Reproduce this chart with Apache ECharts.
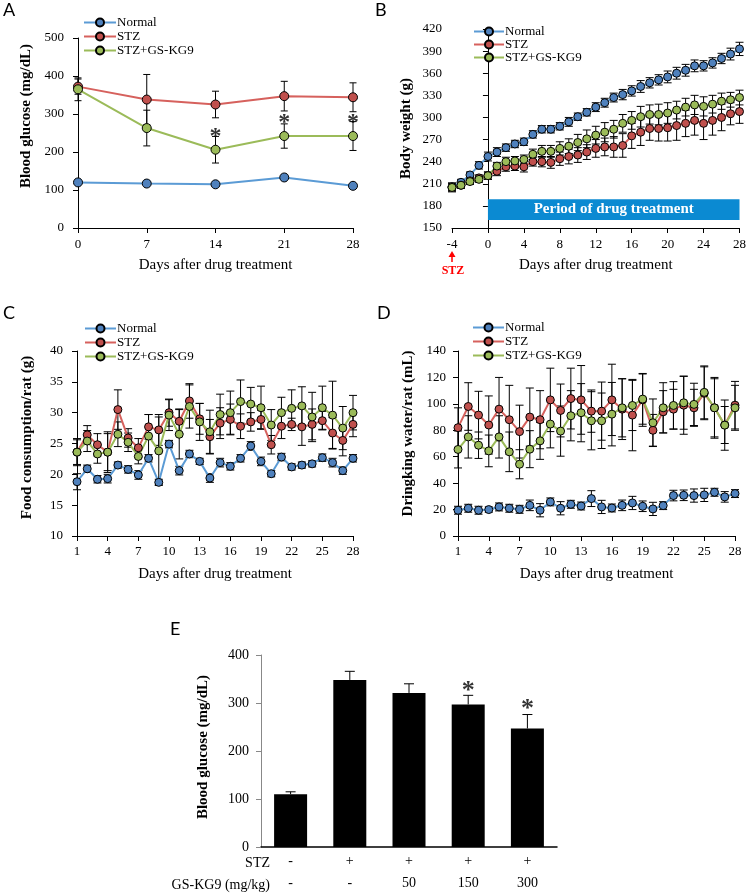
<!DOCTYPE html>
<html><head><meta charset="utf-8">
<script src="https://cdn.jsdelivr.net/npm/echarts@6/dist/echarts.min.js"></script>
<style>html,body{margin:0;padding:0;background:#fff}#c{width:749px;height:894px}</style>
</head><body><div id="c"></div><script>
// ---------- data ----------
const groupNames = ['Normal', 'STZ', 'STZ+GS-KG9'];

// Panel A: blood glucose over time
const daysA = [0, 7, 14, 21, 28];
const glucoseNormalA = [120, 117, 115, 133, 111];
const glucoseNormalErrA = [3, 3, 3, 4, 3];
const glucoseStzA = [372, 338, 325, 347, 344];
const glucoseStzErrA = [20, 66, 35, 39, 38];
const glucoseKg9A = [365, 263, 206, 242, 242];
const glucoseKg9ErrA = [30, 47, 35, 32, 38];
const starDaysA = [14, 21, 28];
const starLevelsA = [241, 277, 277];

// Panel B: body weight, day -4 .. 28
const daysB = [-4,-3,-2,-1,0,1,2,3,4,5,6,7,8,9,10,11,12,13,14,15,16,17,18,19,20,21,22,23,24,25,26,27,28];
const weightNormalB = [206,212,222,235,247,253,259,264,267,277,284,284,288,294,301,307,314,320,327,331,336,342,347,351,355,360,364,370,370,374,380,386,393];
const weightNormalErrB = [5,4,4,5,6,6,5,5,5,5,5,5,5,6,5,5,6,6,6,7,7,8,7,7,8,8,8,8,7,7,7,8,9];
const weightStzB = [205,208,214,218,221,227,233,234,233,240,240,239,244,247,249,253,258,260,260,262,275,280,285,285,286,289,292,296,292,296,300,305,308];
const weightStzErrB = [6,4,4,4,5,6,6,6,7,6,7,8,9,10,10,10,12,12,14,16,17,18,16,17,18,20,18,20,22,20,18,15,16];
const weightKg9B = [205,208,213,216,221,234,240,241,243,250,254,254,258,261,266,271,276,280,284,292,296,301,304,304,306,310,314,317,315,318,322,324,327];
const weightKg9ErrB = [5,4,4,4,5,5,6,6,6,7,8,8,9,10,11,12,12,13,12,12,12,14,13,14,14,12,12,13,13,12,11,10,10];
const treatmentLabel = 'Period of drug treatment';
const treatmentBox = [0, 161, 28, 189];

// Panels C & D: days 1..28
const daysCD = ['1','2','3','4','5','6','7','8','9','10','11','12','13','14','15','16','17','18','19','20','21','22','23','24','25','26','27','28'];
const foodNormalC = [18.8,20.9,19.2,19.3,21.5,20.8,19.9,22.6,18.7,24.9,20.6,23.3,22.1,19.4,21.9,21.3,22.6,24.6,22.1,20.1,22.8,21.2,21.5,21.7,22.7,21.9,20.6,22.6];
const foodNormalErrC = [1.3,0.6,0.6,0.7,0.5,0.6,0.7,0.6,0.5,0.6,0.7,0.6,0.5,0.7,0.7,0.6,0.6,0.7,0.7,0.5,0.6,0.5,0.5,0.5,0.6,0.7,0.6,0.6];
const foodStzC = [23.6,26.4,24.8,23.6,30.5,25.9,24.3,27.7,27.2,30.0,28.6,31.9,29.0,26.1,28.3,28.9,27.8,28.5,28.9,24.8,27.8,28.1,27.7,28.1,28.7,26.7,25.5,28.1];
const foodStzErrC = [2.0,1.5,1.8,3.3,3.2,1.5,1.5,2.0,2.5,2.2,2.0,2.8,2.5,2.8,2.5,2.5,2.0,1.5,1.5,1.5,2.0,1.0,3.0,2.5,1.5,2.5,2.5,2.0];
const foodKg9C = [23.6,25.4,23.3,23.6,26.5,25.2,22.9,26.2,23.8,29.6,26.5,31.0,28.5,26.9,29.7,30.0,31.8,31.4,30.8,28.0,30.0,30.7,31.1,29.3,30.8,29.6,27.5,30.0];
const foodKg9ErrC = [2.2,1.7,1.5,3.0,2.0,1.5,1.2,3.5,5.5,2.5,4.0,3.5,3.0,3.5,3.3,3.5,3.5,2.7,3.5,2.5,2.5,3.0,3.1,4.0,3.5,5.5,3.5,2.8];

const waterNormalD = [19.5,21,19.5,20,22,21,20.2,23.2,19.5,25.8,21,24,22.7,28.3,22,21.2,23.2,25,22.5,20.5,23,30.6,30.8,30.6,31.1,33.1,29.6,32.1];
const waterNormalErrD = [3,3,3,2,3,3,3,4,5,3,5,3,3,6,5,3,4,5,4,5,3,4,4,5,5,3,4,3];
const waterStzD = [82,98,91.5,84,96,88,79,90,88,103,95,104,103,94.5,94.5,103,96,91.5,103,80,94,96,99,97,108,97,84,99];
const waterStzErrD = [15,18,18,22,24,26,20,22,22,24,20,23,26,16,22,27,23,27,20,12,16,15,22,14,20,22,14,18];
const waterKg9D = [65.5,75,68.7,64.4,75,63.7,54.3,65.7,72,84.7,79.4,91,93.3,87.2,87.2,92.2,97,98.8,103.6,85.7,97,98.8,100.8,99.6,108.7,97,83.9,97];
const waterKg9ErrD = [14,16,10,12,16,15,11,14,14,18,19,19,22,22,21,24,22,19,19,18,19,18,20,16,20,23,19,17];

// Panel E: dose response
const stzRowE = ['-', '+', '+', '+', '+'];
const doseRowE = ['-', '-', '50', '150', '300'];
const glucoseE = [110, 348, 321, 297, 247];
const glucoseErrE = [5, 18, 19, 19, 29];
const starIndexE = [3, 4];
const starLevelsE = [325, 286];

// ---------- styles ----------
const SERIF = '"Liberation Serif","Times New Roman",serif';
const SANS = 'Lato,"Open Sans",sans-serif';
const LINE = {'Normal':'#5B9BD5','STZ':'#D6615D','STZ+GS-KG9':'#9BBB59'};
const FILL = {'Normal':'#4F81BD','STZ':'#C0504D','STZ+GS-KG9':'#9BBB59'};

const chart = echarts.init(document.getElementById('c'));

function errRender(cap, upOnly) {
  return function (params, api) {
    const x = api.value(0), y = api.value(1), e = api.value(2);
    const hi = api.coord([x, y + e]);
    const lo = api.coord(upOnly ? [x, y] : [x, y - e]);
    const st = {stroke:'#000', lineWidth:1};
    const ch = [
      {type:'line', shape:{x1:hi[0], y1:hi[1], x2:lo[0], y2:lo[1]}, style:st},
      {type:'line', shape:{x1:hi[0]-cap, y1:hi[1], x2:hi[0]+cap, y2:hi[1]}, style:st}
    ];
    if (!upOnly) ch.push({type:'line', shape:{x1:lo[0]-cap, y1:lo[1], x2:lo[0]+cap, y2:lo[1]}, style:st});
    return {type:'group', children:ch};
  };
}
function lineS(name, ax, data, size) {
  return {type:'line', name, xAxisIndex:ax, yAxisIndex:ax, data, symbol:'circle', symbolSize:size,
    showSymbol:true, showAllSymbol:true, z:3, animation:false, silent:true,
    lineStyle:{color:LINE[name], width:2}, itemStyle:{color:FILL[name], borderColor:'#000', borderWidth:1}};
}
function errS(ax, xs, vals, errs, cap, upOnly) {
  return {type:'custom', xAxisIndex:ax, yAxisIndex:ax, z:2, animation:false, silent:true,
    renderItem: errRender(cap, upOnly),
    data: vals.map((v, i) => [xs[i], v, errs[i]])};
}
function starS(ax, xs, ys, fs) {
  return {type:'scatter', xAxisIndex:ax, yAxisIndex:ax, symbolSize:1, z:5, animation:false, silent:true,
    itemStyle:{color:'rgba(0,0,0,0)'},
    label:{show:true, position:'inside', formatter:'*', fontSize:fs, fontWeight:'bold', color:'#000', fontFamily:SERIF},
    data: xs.map((x, i) => [x, ys[i]])};
}
const pair = (xs, ys) => ys.map((v, i) => [xs[i], v]);
const idx = daysCD.map((d, i) => i);

function yAx(gi, min, max, interval, name, gap, margin, shiftUp, lineColor) {
  return {type:'value', gridIndex:gi, min, max, interval, name, nameLocation:'middle', nameGap:gap,
    nameTextStyle:{fontFamily:SERIF, fontSize:15, fontWeight:'bold', color:'#000', padding:[0,0,0,2*shiftUp]},
    axisLine:{show:true, lineStyle:{color:lineColor || '#000', width:1}},
    axisTick:{show:true, inside:false, length:5, lineStyle:{color:lineColor || '#000'}},
    axisLabel:{fontFamily:SERIF, fontSize:13, color:'#000', margin},
    splitLine:{show:false}};
}
function xValAx(gi, min, max, interval, gap) {
  return {type:'value', gridIndex:gi, min, max, interval, name:'Days after drug treatment', nameLocation:'middle', nameGap:gap,
    nameTextStyle:{fontFamily:SERIF, fontSize:15, color:'#000'},
    axisLine:{show:true, onZero:false, lineStyle:{color:'#000', width:1}},
    axisTick:{show:true, length:5, lineStyle:{color:'#000'}},
    axisLabel:{fontFamily:SERIF, fontSize:13, color:'#000', margin:10},
    splitLine:{show:false}};
}
function xCatAx(gi, gap) {
  return {type:'category', gridIndex:gi, data:daysCD, boundaryGap:false, name:'Days after drug treatment', nameLocation:'middle', nameGap:gap,
    nameTextStyle:{fontFamily:SERIF, fontSize:15, color:'#000'},
    axisLine:{show:true, onZero:false, lineStyle:{color:'#000', width:1}},
    axisTick:{show:true, interval:2, length:5, lineStyle:{color:'#000'}},
    axisLabel:{interval:2, fontFamily:SERIF, fontSize:13, color:'#000', margin:9},
    splitLine:{show:false}};
}
function legendAt(left, top, w, lh, gap) {
  return {left, top, orient:'vertical', padding:0, itemWidth:w, itemHeight:10, itemGap:gap, selectedMode:false,
    data:groupNames, textStyle:{fontFamily:SERIF, fontSize:13, color:'#000', lineHeight:lh, padding:[0,0,0,-4]}};
}

const option = {
  animation:false,
  backgroundColor:'#fff',
  grid:[
    {left:78, top:38, width:275, height:190},
    {left:452, top:29, width:289, height:199},
    {left:77, top:351, width:276, height:185},
    {left:458, top:351, width:277, height:185},
    {left:261, top:655, width:296, height:194}
  ],
  xAxis:[
    xValAx(0, 0, 28, 7, 30),
    xValAx(1, -4, 28, 4, 30),
    xCatAx(2, 31),
    xCatAx(3, 31),
    {type:'category', gridIndex:4, data:stzRowE.map((s, i) => s + '\n' + doseRowE[i]),
      axisLine:{show:true, lineStyle:{color:'#000', width:1.5}}, axisTick:{show:false},
      axisLabel:{fontFamily:SERIF, fontSize:14, color:'#000', lineHeight:22, margin:3}}
  ],
  yAxis:[
    yAx(0, 0, 500, 100, 'Blood glucose (mg/dL)', 44, 14, 17),
    yAx(1, 150, 420, 30, 'Body weight (g)', 38, 10, 0),
    yAx(2, 10, 40, 5, 'Food consumption/rat (g)', 42, 14, 6),
    yAx(3, 0, 140, 20, 'Dringking water/rat (mL)', 42, 12, 10),
    Object.assign(yAx(4, 0, 400, 100, 'Blood glucose (mg/dL)', 50, 12, 4, '#888'),
      {axisLabel:{fontFamily:SERIF, fontSize:14, color:'#000', margin:12}})
  ],
  legend:[legendAt(83, 16, 32, 13, 1), legendAt(473, 25, 30, 12, 0), legendAt(84, 322, 31, 13, 1), legendAt(472, 321, 31, 13, 1)],
  graphic:[
    {type:'text', left:3, top:1, style:{text:'A', font:'18px ' + SANS, fill:'#000'}},
    {type:'text', left:375, top:1, style:{text:'B', font:'18px ' + SANS, fill:'#000'}},
    {type:'text', left:3, top:304, style:{text:'C', font:'18px ' + SANS, fill:'#000'}},
    {type:'text', left:377, top:304, style:{text:'D', font:'18px ' + SANS, fill:'#000'}},
    {type:'text', left:170, top:620, style:{text:'E', font:'18px ' + SANS, fill:'#000'}},
    {type:'line', shape:{x1:452, y1:256, x2:452, y2:262}, style:{stroke:'#ff0000', lineWidth:1.5}},
    {type:'polygon', shape:{points:[[452,251],[448.5,257],[455.5,257]]}, style:{fill:'#ff0000'}},
    {type:'text', x:453, y:271, style:{text:'STZ', font:'bold 12px ' + SERIF, fill:'#ff0000', align:'center', verticalAlign:'middle'}},
    {type:'text', x:270, y:863, style:{text:'STZ', font:'14px ' + SERIF, fill:'#000', align:'right', verticalAlign:'middle'}},
    {type:'text', x:270, y:885, style:{text:'GS-KG9 (mg/kg)', font:'14px ' + SERIF, fill:'#000', align:'right', verticalAlign:'middle'}}
  ],
  series:[
    // A
    errS(0, daysA, glucoseNormalA, glucoseNormalErrA, 3.5, false),
    errS(0, daysA, glucoseStzA, glucoseStzErrA, 3.5, false),
    errS(0, daysA, glucoseKg9A, glucoseKg9ErrA, 3.5, false),
    lineS('Normal', 0, pair(daysA, glucoseNormalA), 9),
    lineS('STZ', 0, pair(daysA, glucoseStzA), 9),
    lineS('STZ+GS-KG9', 0, pair(daysA, glucoseKg9A), 9),
    starS(0, starDaysA, starLevelsA, 24),
    // B
    errS(1, daysB, weightNormalB, weightNormalErrB, 4, false),
    errS(1, daysB, weightStzB, weightStzErrB, 4, false),
    errS(1, daysB, weightKg9B, weightKg9ErrB, 4, false),
    Object.assign(lineS('Normal', 1, pair(daysB, weightNormalB), 8), {
      markArea:{silent:true, itemStyle:{color:'#0B8AD2'},
        label:{show:true, position:'inside', color:'#fff', fontWeight:'bold', fontSize:15, fontFamily:SERIF},
        data:[[{name:treatmentLabel, xAxis:treatmentBox[0], yAxis:treatmentBox[1]}, {xAxis:treatmentBox[2], yAxis:treatmentBox[3]}]]}
    }),
    lineS('STZ', 1, pair(daysB, weightStzB), 8),
    lineS('STZ+GS-KG9', 1, pair(daysB, weightKg9B), 8),
    // C
    errS(2, idx, foodNormalC, foodNormalErrC, 4, false),
    errS(2, idx, foodStzC, foodStzErrC, 4, false),
    errS(2, idx, foodKg9C, foodKg9ErrC, 4, false),
    lineS('Normal', 2, foodNormalC, 8),
    lineS('STZ', 2, foodStzC, 8),
    lineS('STZ+GS-KG9', 2, foodKg9C, 8),
    // D
    errS(3, idx, waterNormalD, waterNormalErrD, 4, false),
    errS(3, idx, waterStzD, waterStzErrD, 4, false),
    errS(3, idx, waterKg9D, waterKg9ErrD, 4, false),
    lineS('Normal', 3, waterNormalD, 8),
    lineS('STZ', 3, waterStzD, 8),
    lineS('STZ+GS-KG9', 3, waterKg9D, 8),
    // E
    {type:'bar', xAxisIndex:4, yAxisIndex:4, data:glucoseE, barWidth:33, itemStyle:{color:'#000'}, z:2, animation:false, silent:true},
    errS(4, [0,1,2,3,4], glucoseE, glucoseErrE, 5, true),
    starS(4, starIndexE, starLevelsE, 26)
  ]
};
chart.setOption(option);
</script></body></html>
